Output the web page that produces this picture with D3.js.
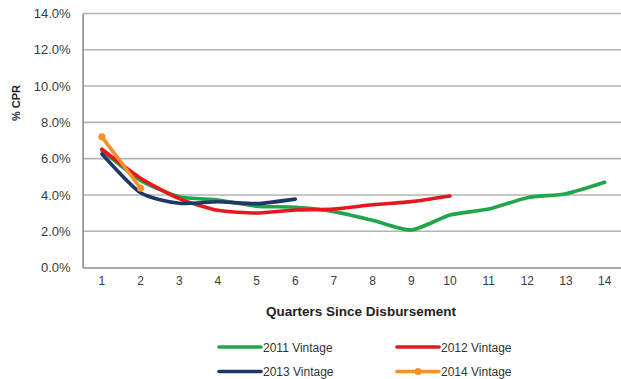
<!DOCTYPE html>
<html><head><meta charset="utf-8">
<script src="https://cdn.jsdelivr.net/npm/d3@7"></script>
<style>body{margin:0;background:#fff}svg{display:block}text{font-family:"Liberation Sans",Arial,sans-serif}</style>
</head><body>
<svg id="c" width="621" height="379"></svg>
<script>
const quarters = [1,2,3,4,5,6,7,8,9,10,11,12,13,14];
const yTicks = [0,2,4,6,8,10,12,14];
const v2011 = [6.45,4.8,3.9,3.72,3.38,3.32,3.08,2.6,2.07,2.89,3.22,3.85,4.07,4.7];
const v2012 = [6.52,4.92,3.8,3.15,3.0,3.17,3.22,3.46,3.63,3.94];
const v2013 = [6.26,4.12,3.54,3.62,3.52,3.77];
const v2014 = [7.2,4.37];
const seriesNames = ["2011 Vintage","2012 Vintage","2013 Vintage","2014 Vintage"];
const colors = ["#1fa64b","#e8171d","#1d3868","#f5902c"];

(function(){
const svg = d3.select("#c");
const pLeft = 82.6, pRight = 624, pTop = 13.5, pBottom = 267.5;
const x = d3.scaleBand().domain(quarters).range([pLeft,pRight]);
const y = d3.scaleLinear().domain([0,14]).range([pBottom,pTop]);
const cx = q => x(q) + x.bandwidth()/2;

svg.append("g").selectAll("line").data(yTicks.filter(d=>d>0)).join("line")
  .attr("x1",pLeft).attr("x2",pRight).attr("y1",d=>y(d)).attr("y2",d=>y(d))
  .attr("stroke","#b4b4b4").attr("stroke-width",1.6);

const ya = svg.append("g").attr("transform",`translate(${pLeft},0)`)
  .call(d3.axisLeft(y).tickValues(yTicks).tickSize(0).tickPadding(12).tickFormat(d=>d.toFixed(1)+"%"));
ya.select(".domain").attr("stroke","#8c8c8c").attr("stroke-width",1.6);
ya.selectAll("text").attr("font-size",13).attr("fill","#3a3a3a");

const xa = svg.append("g").attr("transform",`translate(0,${pBottom})`)
  .call(d3.axisBottom(x).tickSize(0).tickPadding(9));
xa.select(".domain").attr("stroke","#8c8c8c").attr("stroke-width",1.6);
xa.selectAll("text").attr("font-size",12).attr("fill","#3a3a3a");

svg.append("text").attr("x",361).attr("y",316).attr("text-anchor","middle")
  .attr("font-size",13.5).attr("font-weight","bold").attr("fill","#222").text("Quarters Since Disbursement");
svg.append("text").attr("transform","translate(20,103) rotate(-90)").attr("text-anchor","middle")
  .attr("font-size",11).attr("font-weight","bold").attr("fill","#222").text("% CPR");

const allSeries = [v2011,v2012,v2013,v2014];
const line = d3.line().x((d,i)=>cx(quarters[i])).y(d=>y(d)).curve(d3.curveCardinal.tension(0.35));
allSeries.forEach((s,k)=>{
  svg.append("path").datum(s).attr("d",line).attr("fill","none")
    .attr("stroke",colors[k]).attr("stroke-width",3.6).attr("stroke-linejoin","round").attr("stroke-linecap","round");
});
svg.append("g").selectAll("circle").data(v2014).join("circle")
  .attr("cx",(d,i)=>cx(quarters[i])).attr("cy",d=>y(d)).attr("r",3.6).attr("fill",colors[3]);

const legPos = [[219,347],[397,347],[219,371.5],[397,371.5]];
seriesNames.forEach((n,k)=>{
  const [lx,ly] = legPos[k];
  const g = svg.append("g");
  g.append("line").attr("x1",lx).attr("x2",lx+42).attr("y1",ly).attr("y2",ly)
    .attr("stroke",colors[k]).attr("stroke-width",3.6).attr("stroke-linecap","round");
  if(k===3) g.append("circle").attr("cx",lx+21).attr("cy",ly).attr("r",3.6).attr("fill",colors[k]);
  g.append("text").attr("x",lx+44).attr("y",ly+4.5).attr("font-size",12).attr("fill","#333").text(n);
});
})();
</script>
</body></html>
